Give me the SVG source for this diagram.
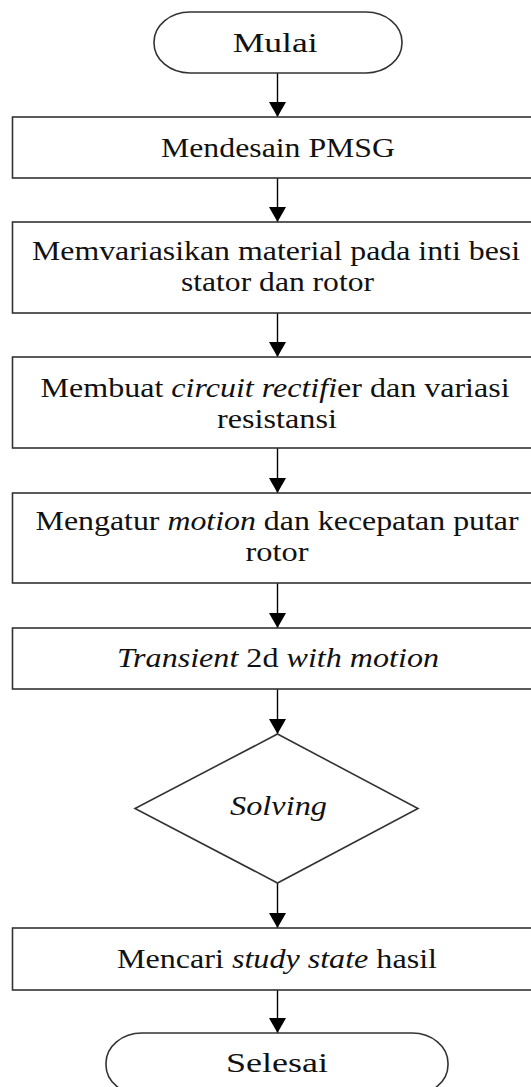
<svg xmlns="http://www.w3.org/2000/svg" width="531" height="1087" viewBox="0 0 531 1087">
  <style>
    .shape { fill: #ffffff; stroke: #333333; stroke-width: 1.6; }
    .flow { fill: none; stroke: #000000; stroke-width: 1.4; }
    .label { font-family: "Liberation Serif", "Times New Roman", Times, serif; font-size: 28px; fill: #111111; }
    .it { font-style: italic; }
  </style>
  <defs>
    <!-- filled triangle drawn along +x so orient="auto" turns it to follow each line -->
    <marker id="arrowhead" markerUnits="userSpaceOnUse" markerWidth="16" markerHeight="18" viewBox="0 0 16 18" refX="15" refY="9" orient="auto">
      <path d="M0,0.5 L15,9 L0,17.5 Z" fill="#000000"/>
    </marker>
  </defs>

  <rect width="531" height="1087" fill="#ffffff"/>

  <!-- connectors between steps -->
  <g id="connectors">
    <line class="flow" x1="277.5" y1="73" x2="277.5" y2="117" marker-end="url(#arrowhead)"/>
    <line class="flow" x1="277.5" y1="178" x2="277.5" y2="222" marker-end="url(#arrowhead)"/>
    <line class="flow" x1="277.5" y1="313" x2="277.5" y2="357" marker-end="url(#arrowhead)"/>
    <line class="flow" x1="277.5" y1="448" x2="277.5" y2="493" marker-end="url(#arrowhead)"/>
    <line class="flow" x1="277.5" y1="583" x2="277.5" y2="628" marker-end="url(#arrowhead)"/>
    <line class="flow" x1="277.5" y1="689" x2="277.5" y2="734" marker-end="url(#arrowhead)"/>
    <line class="flow" x1="277.5" y1="883" x2="277.5" y2="928" marker-end="url(#arrowhead)"/>
    <line class="flow" x1="277.5" y1="990" x2="277.5" y2="1033" marker-end="url(#arrowhead)"/>
  </g>

  <g id="start">
    <rect class="shape" x="154" y="12" width="248" height="61" rx="36" ry="30"/>
    <text class="label" x="232.7" y="51.7" textLength="85" lengthAdjust="spacingAndGlyphs">Mulai</text>
  </g>

  <g id="design">
    <rect class="shape" x="12.5" y="117" width="540" height="61"/>
    <text class="label" x="161" y="157" textLength="234" lengthAdjust="spacingAndGlyphs">Mendesain PMSG</text>
  </g>

  <g id="material">
    <rect class="shape" x="12.5" y="222" width="540" height="91"/>
    <text class="label" x="32" y="260" textLength="488" lengthAdjust="spacingAndGlyphs">Memvariasikan material pada inti besi</text>
    <text class="label" x="181" y="291" textLength="193" lengthAdjust="spacingAndGlyphs">stator dan rotor</text>
  </g>

  <g id="rectifier">
    <rect class="shape" x="12.5" y="357" width="540" height="91"/>
    <text class="label" x="40.6" y="397" textLength="469" lengthAdjust="spacingAndGlyphs">Membuat <tspan class="it">circuit rectifi</tspan>er dan variasi</text>
    <text class="label" x="217" y="428" textLength="120" lengthAdjust="spacingAndGlyphs">resistansi</text>
  </g>

  <g id="motion">
    <rect class="shape" x="12.5" y="493" width="540" height="90"/>
    <text class="label" x="35.6" y="530" textLength="483" lengthAdjust="spacingAndGlyphs">Mengatur <tspan class="it">motion</tspan> dan kecepatan putar</text>
    <text class="label" x="245.5" y="561" textLength="63" lengthAdjust="spacingAndGlyphs">rotor</text>
  </g>

  <g id="transient">
    <rect class="shape" x="12.5" y="628" width="540" height="61"/>
    <text class="label" x="117" y="667" textLength="322" lengthAdjust="spacingAndGlyphs"><tspan class="it">Transient</tspan> 2d <tspan class="it">with motion</tspan></text>
  </g>

  <g id="solving">
    <polygon class="shape" points="277.5,734 418,808.5 277.5,883 135,808.5"/>
    <text class="label it" x="230" y="815" textLength="97" lengthAdjust="spacingAndGlyphs">Solving</text>
  </g>

  <g id="steady">
    <rect class="shape" x="12.5" y="928" width="540" height="62"/>
    <text class="label" x="117" y="968" textLength="320" lengthAdjust="spacingAndGlyphs">Mencari <tspan class="it">study state</tspan> hasil</text>
  </g>

  <g id="end">
    <rect class="shape" x="106" y="1033" width="342" height="62" rx="36" ry="30"/>
    <text class="label" x="226" y="1071.7" textLength="102" lengthAdjust="spacingAndGlyphs">Selesai</text>
  </g>
</svg>
